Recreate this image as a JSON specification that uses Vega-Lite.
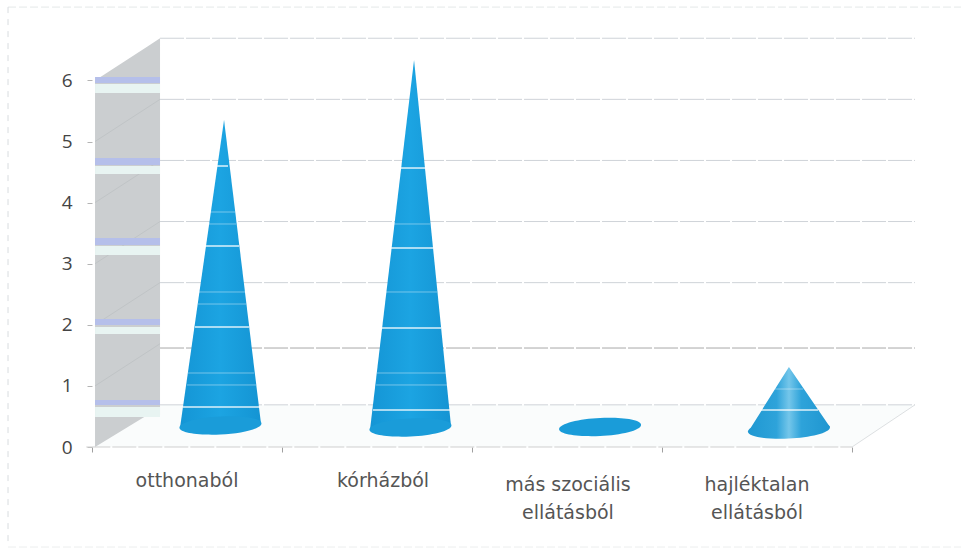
{"$schema":"https://vega.github.io/schema/vega-lite/v6.json","width":823,"height":409,"autosize":{"type":"none"},"padding":{"left":92,"top":38,"right":46,"bottom":102},"background":"#ffffff","config":{"view":{"stroke":null}},
"encoding":{"x":{"field":"x","type":"quantitative","scale":{"domain":[0,4.3316],"nice":false,"zero":false},"axis":{"values":[0,1,2,3,4],"labels":false,"title":null,"grid":false,"domain":false,"ticks":true,"tickSize":5,"tickColor":"#a0a0a0","tickWidth":1}},"y":{"field":"y","type":"quantitative","scale":{"domain":[0,6.694],"nice":false,"zero":false},"axis":{"values":[0,1,2,3,4,5,6],"format":"d","title":null,"grid":false,"domain":false,"tickSize":5,"tickColor":"#b4b4b4","labelPadding":15,"labelFont":"Open Sans","labelFontSize":19,"labelColor":"#444444"}}},
"layer":[
{"data":{"values":[{"x":-0.442,"x2":4.7,"y":7.2}]},"mark":{"type":"rule","color":"#e4e8e8","strokeDash":[8,3],"strokeWidth":1},"encoding":{"x2":{"field":"x2"}}},
{"data":{"values":[{"x":-0.442,"x2":4.7,"y":-1.637}]},"mark":{"type":"rule","color":"#eceeee","strokeDash":[8,3],"strokeWidth":1},"encoding":{"x2":{"field":"x2"}}},
{"data":{"values":[{"x":-0.442,"y":7.2,"y2":-1.637}]},"mark":{"type":"rule","color":"#d8dcdf","strokeDash":[6,6],"strokeWidth":1},"encoding":{"y2":{"field":"y2"}}},
{"data":{"values":[{"x":0,"y":0,"y2":0},{"x":0.358,"y":0,"y2":0.69},{"x":4,"y":0,"y2":0.69},{"x":4.3316,"y":0.69,"y2":0.69}]},"mark":{"type":"area","color":"#fafcfc"},"encoding":{"y2":{"field":"y2"}}},
{"data":{"values":[{"x":0.016,"y":0,"y2":6},{"x":0.29,"y":0.52,"y2":6.55},{"x":0.358,"y":0.52,"y2":6.69}]},"mark":{"type":"area","color":"#cbced0"},"encoding":{"y2":{"field":"y2"}}},
{"data":{"values":[{"k":1,"x":0.016,"y":1},{"k":1,"x":0.358,"y":1.69},{"k":2,"x":0.016,"y":2},{"k":2,"x":0.358,"y":2.69},{"k":3,"x":0.016,"y":3},{"k":3,"x":0.358,"y":3.69},{"k":4,"x":0.016,"y":4},{"k":4,"x":0.358,"y":4.69},{"k":5,"x":0.016,"y":5},{"k":5,"x":0.358,"y":5.69}]},"mark":{"type":"line","color":"#c0c4c6","strokeWidth":1},"encoding":{"detail":{"field":"k"}}},
{"data":{"values":[{"x":0.016,"x2":0.358,"y":5.794,"y2":5.941},{"x":0.016,"x2":0.358,"y":4.468,"y2":4.599},{"x":0.016,"x2":0.358,"y":3.142,"y2":3.29},{"x":0.016,"x2":0.358,"y":1.849,"y2":1.964},{"x":0.016,"x2":0.358,"y":0.491,"y2":0.655}]},"mark":{"type":"rect","color":"#e8f4f2"},"encoding":{"x2":{"field":"x2"},"y2":{"field":"y2"}}},
{"data":{"values":[{"x":0.016,"x2":0.358,"y":5.957,"y2":6.056},{"x":0.016,"x2":0.358,"y":4.615,"y2":4.73},{"x":0.016,"x2":0.358,"y":3.306,"y2":3.42},{"x":0.016,"x2":0.358,"y":1.997,"y2":2.095},{"x":0.016,"x2":0.358,"y":0.687,"y2":0.769}]},"mark":{"type":"rect","color":"#b5bfea"},"encoding":{"x2":{"field":"x2"},"y2":{"field":"y2"}}},
{"data":{"values":[{"x":0.358,"x2":4.3316,"y":6.69},{"x":0.358,"x2":4.3316,"y":5.69},{"x":0.358,"x2":4.3316,"y":4.69},{"x":0.358,"x2":4.3316,"y":3.69},{"x":0.358,"x2":4.3316,"y":2.69},{"x":0.358,"x2":4.3316,"y":0.69}]},"mark":{"type":"rule","color":"#cfd3d8","strokeDash":[24,2],"strokeWidth":1},"encoding":{"x2":{"field":"x2"}}},
{"data":{"values":[{"x":0.358,"x2":4.3316,"y":1.62}]},"mark":{"type":"rule","color":"#a8a8a8","strokeDash":[24,2],"strokeWidth":1},"encoding":{"x2":{"field":"x2"}}},
{"data":{"values":[{"x":-0.03,"x2":4,"y":0}]},"mark":{"type":"rule","color":"#cfcfcf","strokeDash":[24,2],"strokeWidth":1},"encoding":{"x2":{"field":"x2"}}},
{"data":{"values":[{"x":4,"y":0},{"x":4.3316,"y":0.69}]},"mark":{"type":"line","color":"#dde0e2","strokeWidth":1}},
{"data":{"values":[{"c":"otthonaból","x":0.463,"y":0.311,"y2":0.311},{"c":"otthonaból","x":0.695,"y":5.352,"y2":0.352},{"c":"otthonaból","x":0.889,"y":0.393,"y2":0.393},{"c":"kórházból","x":1.463,"y":0.278,"y2":0.278},{"c":"kórházból","x":1.695,"y":6.334,"y2":0.319},{"c":"kórházból","x":1.889,"y":0.36,"y2":0.36}]},"mark":{"type":"area","color":{"gradient":"linear","x1":0,"x2":1,"y1":0,"y2":0,"stops":[{"offset":0,"color":"#1495d5"},{"offset":0.5,"color":"#1ca4e2"},{"offset":1,"color":"#1494d3"}]}},"encoding":{"y2":{"field":"y2"},"detail":{"field":"c"}}},
{"data":{"values":[{"x":3.453,"y":0.245,"y2":0.245},{"x":3.668,"y":1.309,"y2":0.286},{"x":3.884,"y":0.327,"y2":0.327}]},"mark":{"type":"area","color":{"gradient":"linear","x1":0,"x2":1,"y1":0,"y2":0,"stops":[{"offset":0,"color":"#1f98d2"},{"offset":0.35,"color":"#2ea3da"},{"offset":0.5,"color":"#74c6ea"},{"offset":0.65,"color":"#2ea3da"},{"offset":1,"color":"#1f96d0"}]}},"encoding":{"y2":{"field":"y2"}}},
{"data":{"values":[{"x":0.676,"y":0.352},{"x":1.676,"y":0.319},{"x":2.674,"y":0.327}]},"mark":{"type":"point","filled":true,"opacity":1,"size":6724,"color":"#1a9cd9","shape":"M-1,0.05C-1,0.19 -0.5,0.24 0,0.22C0.5,0.2 1,0.08 1,-0.05C1,-0.19 0.5,-0.24 0,-0.22C-0.5,-0.2 -1,-0.08 -1,0.05Z"}},
{"data":{"values":[{"x":3.668,"y":0.286}]},"mark":{"type":"point","filled":true,"opacity":1,"size":6724,"color":{"gradient":"linear","x1":0,"x2":1,"y1":0,"y2":0,"stops":[{"offset":0,"color":"#1f98d2"},{"offset":0.35,"color":"#2ea3da"},{"offset":0.5,"color":"#74c6ea"},{"offset":0.65,"color":"#2ea3da"},{"offset":1,"color":"#1f96d0"}]},"shape":"M-1,0.05C-1,0.19 -0.5,0.24 0,0.22C0.5,0.2 1,0.08 1,-0.05C1,-0.19 0.5,-0.24 0,-0.22C-0.5,-0.2 -1,-0.08 -1,0.05Z"}},
{"data":{"values":[{"x":0.653,"x2":0.716,"y":4.599},{"x":0.595,"x2":0.774,"y":3.29},{"x":0.542,"x2":0.826,"y":1.964},{"x":0.479,"x2":0.884,"y":0.655},{"x":1.626,"x2":1.753,"y":4.566},{"x":1.574,"x2":1.795,"y":3.257},{"x":1.526,"x2":1.837,"y":1.948},{"x":1.479,"x2":1.884,"y":0.606},{"x":3.516,"x2":3.821,"y":0.606}]},"mark":{"type":"rule","color":"#ffffff","strokeWidth":1.5,"opacity":0.85},"encoding":{"x2":{"field":"x2"}}},
{"data":{"values":[{"x":0.616,"x2":0.753,"y":3.846},{"x":0.611,"x2":0.758,"y":3.65},{"x":0.563,"x2":0.805,"y":2.537},{"x":0.558,"x2":0.811,"y":2.34},{"x":0.505,"x2":0.853,"y":1.211},{"x":0.5,"x2":0.863,"y":1.015},{"x":1.589,"x2":1.779,"y":3.65},{"x":1.547,"x2":1.816,"y":2.537},{"x":1.5,"x2":1.863,"y":1.211},{"x":1.495,"x2":1.868,"y":1.015},{"x":3.595,"x2":3.742,"y":0.949}]},"mark":{"type":"rule","color":"#ffffff","strokeWidth":1,"opacity":0.4},"encoding":{"x2":{"field":"x2"}}},
{"data":{"values":[{"x":0.5,"y":-0.56,"t":"otthonaból"},{"x":1.532,"y":-0.56,"t":"kórházból"},{"x":2.505,"y":-0.62,"t":"más szociális"},{"x":2.505,"y":-1.08,"t":"ellátásból"},{"x":3.5,"y":-0.62,"t":"hajléktalan"},{"x":3.5,"y":-1.08,"t":"ellátásból"}]},"mark":{"type":"text","font":"DejaVu Sans","fontSize":19,"color":"#555555","align":"center","baseline":"middle"},"encoding":{"text":{"field":"t"}}}
]}
